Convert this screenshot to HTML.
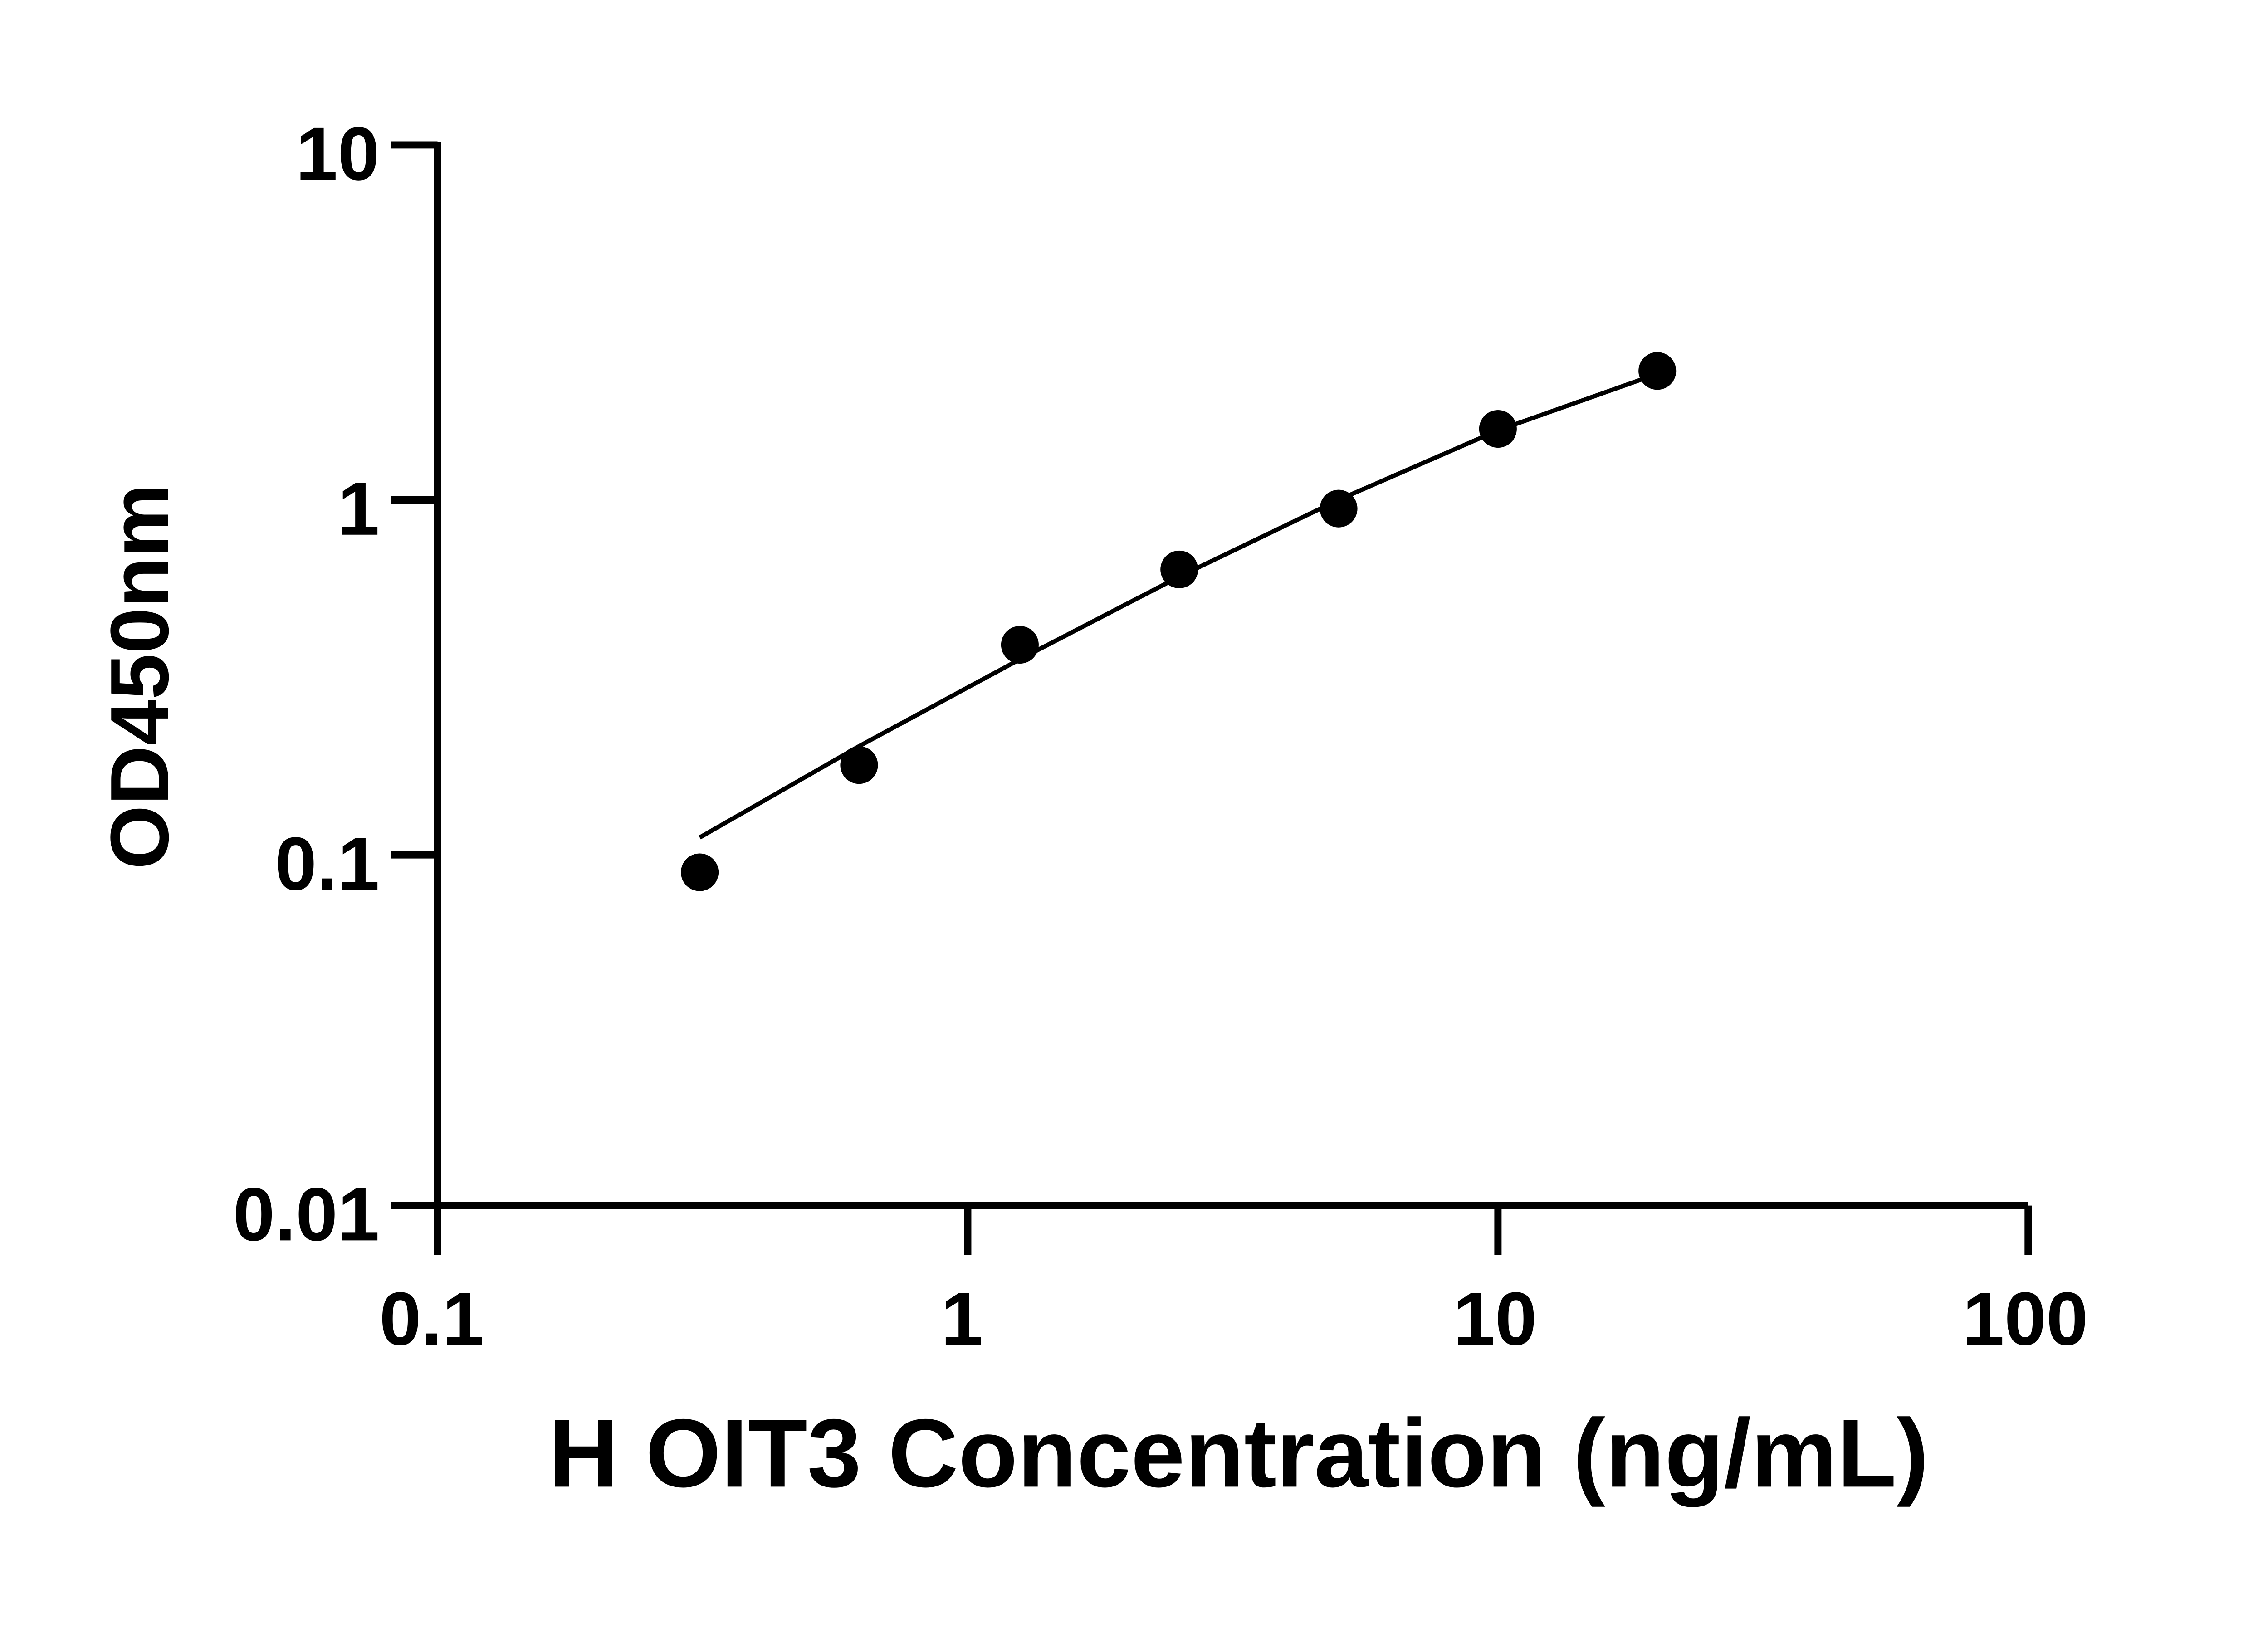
<!DOCTYPE html>
<html><head><style>html,body{margin:0;padding:0;background:#fff;}svg{display:block}</style></head>
<body>
<svg width="5142" height="3600" viewBox="0 0 1610 1127" preserveAspectRatio="none" xmlns="http://www.w3.org/2000/svg">
<rect width="1610" height="1127" fill="#fff"/>
<g stroke="#000" stroke-width="5" fill="none">
<line x1="302" y1="98" x2="302" y2="834"/>
<line x1="300" y1="832" x2="1400" y2="832"/>
<line x1="270" y1="100" x2="302" y2="100"/>
<line x1="270" y1="345" x2="302" y2="345"/>
<line x1="270" y1="590" x2="302" y2="590"/>
<line x1="270" y1="832" x2="302" y2="832"/>
<line x1="302" y1="832" x2="302" y2="866"/>
<line x1="668" y1="832" x2="668" y2="866"/>
<line x1="1034" y1="832" x2="1034" y2="866"/>
<line x1="1400" y1="832" x2="1400" y2="866"/>
</g>
<polyline points="483,578 593,515 704,455 814,398 924,345 1034,297 1144,258" fill="none" stroke="#000" stroke-width="3"/>
<g fill="#000">
<circle cx="483" cy="602" r="13"/><circle cx="593" cy="528" r="13"/><circle cx="704" cy="445" r="13"/>
<circle cx="814" cy="393" r="13"/><circle cx="924" cy="351" r="13"/><circle cx="1034" cy="296" r="13"/>
<circle cx="1144" cy="256" r="13"/>
</g>
<g font-family="Liberation Sans, sans-serif" font-weight="bold" font-size="52" fill="#000">
<g text-anchor="end">
<text x="262" y="124">10</text>
<text x="262" y="369">1</text>
<text x="262" y="614">0.1</text>
<text x="262" y="856">0.01</text>
</g>
<g text-anchor="middle">
<text x="298" y="928">0.1</text>
<text x="664" y="928">1</text>
<text x="1032" y="928">10</text>
<text x="1398" y="928">100</text>
</g>
<text x="855" y="1026" text-anchor="middle" font-size="67">H OIT3 Concentration (ng/mL)</text>
<text transform="translate(116,467) rotate(-90)" text-anchor="middle" font-size="57">OD450nm</text>
</g>
</svg>
</body></html>
